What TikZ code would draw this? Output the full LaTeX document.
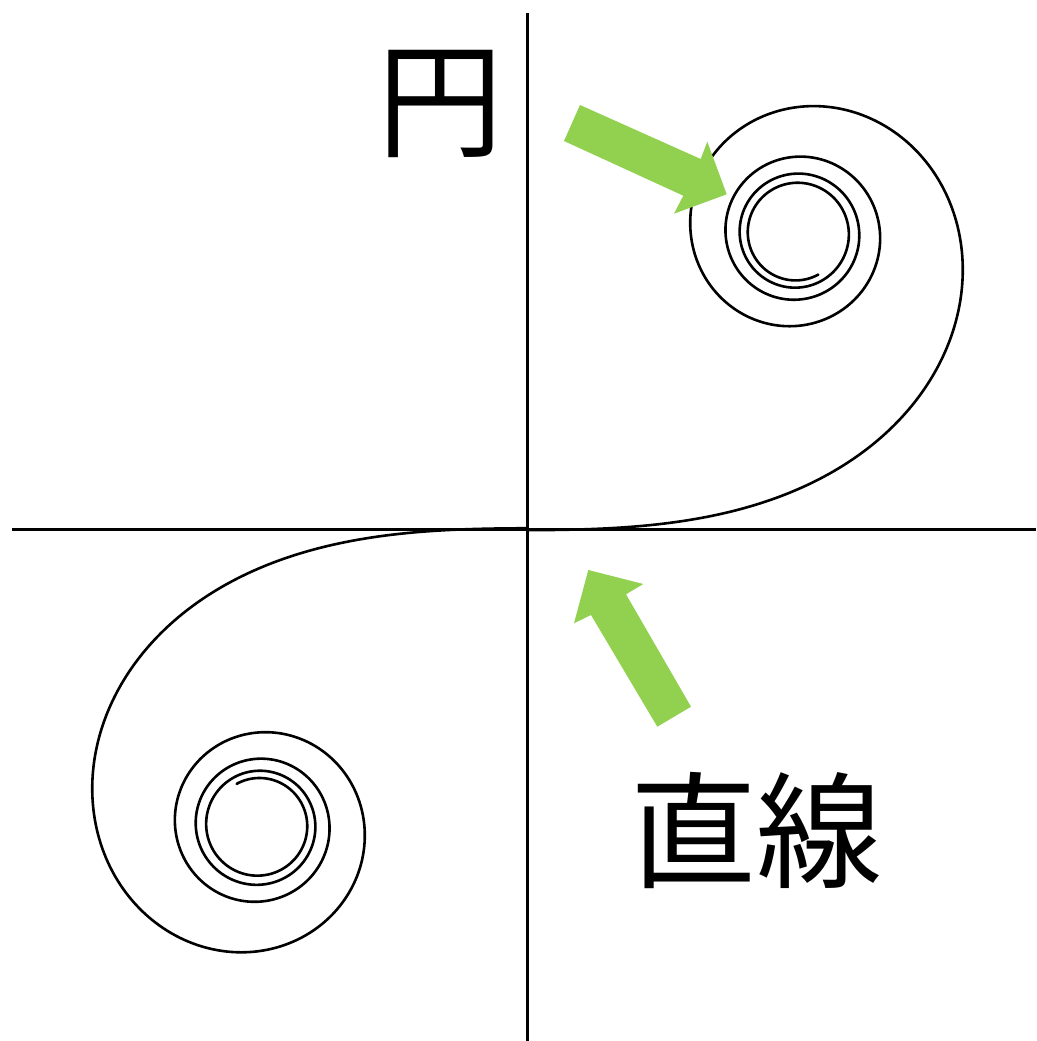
\documentclass[tikz,border=0pt]{standalone}
\usepackage{fontspec}
\usepackage{xfp}
\newfontfamily\cjk{Noto Sans CJK JP}
\definecolor{arrowgreen}{HTML}{92D050}
\def\clodt{0.005}
\def\closcale{594}
% #1 path macro, #2 origin x, #3 origin y, #4 sign, #5 number of steps
\newcommand\buildclothoid[5]{%
  \gdef\cloX{0}\gdef\cloY{0}%
  \xdef#1{(#2,#3)}%
  \foreach \i in {1,...,#5}{%
    \xdef\cloX{\fpeval{\cloX + cos(pi/2*((\i-0.5)*\clodt)^2)*\clodt}}%
    \xdef\cloY{\fpeval{\cloY + sin(pi/2*((\i-0.5)*\clodt)^2)*\clodt}}%
    \xdef#1{#1 -- (\fpeval{round(#2 + #4*\closcale*\cloX,2)},\fpeval{round(#3 - #4*\closcale*\cloY,2)})}%
  }%
}
\buildclothoid{\pathUR}{499.5}{530.2}{1}{808}
\buildclothoid{\pathLL}{555.5}{528.2}{-1}{808}
\tikzset{
  axisline/.style={line width=3pt, black},
  spiral/.style={line width=2.6pt, black, line join=round, line cap=round},
  blockarrow/.style={fill=arrowgreen, draw=none},
  label/.style={font=\cjk\fontsize{126}{126}\selectfont, inner sep=0pt, anchor=base west}
}
\begin{document}
\begin{tikzpicture}[x=1pt,y=-1pt]
\useasboundingbox (0,0) rectangle (1036,1041);
% axes
\coordinate (ytop) at (527.5,13);
\coordinate (ybot) at (527.5,1041);
\coordinate (xleft) at (12,529.2);
\coordinate (xright) at (1036,529.2);
\draw[axisline] (ytop) -- (ybot);
\draw[axisline] (xleft) -- (xright);
% clothoid (each half kept on its own side of the vertical axis)
\begin{scope}
  \clip (527.5,0) rectangle (1036,1041);
  \draw[spiral] \pathUR;
\end{scope}
\begin{scope}
  \clip (0,0) rectangle (527.5,1041);
  \draw[spiral] \pathLL;
\end{scope}
% green arrows
\fill[blockarrow] (580,105) -- (700.7,159) -- (707.3,141.7) -- (726.7,194.3)
  -- (674,213.7) -- (683.3,195.7) -- (564,141) -- cycle;
\fill[blockarrow] (588.3,570) -- (643.3,584) -- (626,594.3) -- (691,706.7)
  -- (657.3,726.7) -- (591,615) -- (574,623.3) -- cycle;
% labels
\node[label] (en) at (377,147) {円};
\node[label] (chokusen) at (630,878) {直線};
\end{tikzpicture}
\end{document}
